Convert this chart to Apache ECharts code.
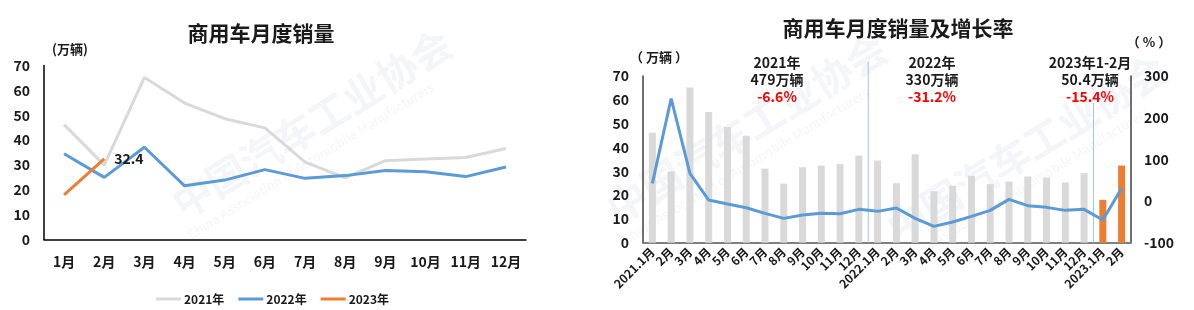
<!DOCTYPE html>
<html>
<head>
<meta charset="utf-8">
<script src="https://cdn.jsdelivr.net/npm/echarts@6/dist/echarts.min.js"></script>
<style>
html,body{margin:0;padding:0;background:#fff;}
#c{width:1194px;height:310px;}
</style>
</head>
<body>
<div id="c"></div>
<script>
// ---- data ----
const monthLabels = ['1月','2月','3月','4月','5月','6月','7月','8月','9月','10月','11月','12月'];
const sales2021 = [46.2, 29.9, 65.2, 54.9, 48.6, 44.9, 31.1, 24.8, 31.7, 32.4, 33.0, 36.6];
const sales2022 = [34.5, 25.0, 37.1, 21.6, 23.9, 28.1, 24.6, 25.7, 27.8, 27.3, 25.3, 29.2];
const sales2023 = [18.0, 32.4];
const seriesNames = ['2021年', '2022年', '2023年'];
const comboLabels = ['2021.1月','2月','3月','4月','5月','6月','7月','8月','9月','10月','11月','12月',
  '2022.1月','2月','3月','4月','5月','6月','7月','8月','9月','10月','11月','12月',
  '2023.1月','2月'];
const growthRate = [42.5, 246, 66.5, 2.4, -7.2, -16, -29.6, -41.6, -33.6, -29.6, -30.4, -20,
  -24.8, -16.8, -41.6, -60.8, -50.4, -36.8, -22.4, 4, -11.2, -15.2, -22.4, -20,
  -45.6, 30.4];
const leftTicks = {min: 0, max: 70, interval: 10};
const rightTicks = {min: -100, max: 300, interval: 100};
const annotations = [
  {x: 777, lines: ['2021年', '479万辆', '-6.6%']},
  {x: 932, lines: ['2022年', '330万辆', '-31.2%']},
  {x: 1090, lines: ['2023年1-2月', '50.4万辆', '-15.4%']}
];

const FONT = '"Noto Sans CJK SC", "Noto Sans", sans-serif';
const DARK = '#1a1a1a';
const histBars = sales2021.concat(sales2022);
const grayBars = histBars.concat(sales2023.map(() => '-'));
const orangeBars = histBars.map(() => '-').concat(sales2023);

const chart = echarts.init(document.getElementById('c'), null, {renderer: 'canvas'});

function txt(x, y, text, size, color, extra) {
  return Object.assign({
    type: 'text', x: x, y: y, z: 10,
    style: {text: text, fontSize: size, fontWeight: 'bold', fontFamily: FONT,
      fill: color || DARK, textAlign: 'center', textVerticalAlign: 'middle'}
  }, extra || {});
}

const wmColor = 'rgba(205,212,228,0.24)';
function watermark(x, y, rot) {
  return [
    {type: 'text', x: x, y: y, rotation: rot, z: -10, silent: true,
      style: {text: '中国汽车工业协会', fontSize: 40, fontWeight: 'bold', fontFamily: FONT, fill: wmColor}},
    {type: 'text', x: x + 20, y: y + 40, rotation: rot, z: -10, silent: true,
      style: {text: 'China Association of Automobile Manufacturers', fontSize: 13, fontFamily: FONT, fill: wmColor}}
  ];
}

const graphics = [
  txt(261, 33, '商用车月度销量', 21),
  txt(898, 28, '商用车月度销量及增长率', 21),
  txt(70, 49, '(万辆)', 13),
  txt(659, 57, '（ 万辆 ）', 13),
  txt(1149, 42, '（ % ）', 13)
].concat(watermark(165, 190, 0.55), watermark(600, 195, 0.55), watermark(880, 215, 0.55));

annotations.forEach(a => {
  graphics.push(txt(a.x, 63, a.lines[0], 14));
  graphics.push(txt(a.x, 80, a.lines[1], 14));
  graphics.push(txt(a.x, 97, a.lines[2], 14, '#ff0000'));
});

const axisLabelStyle = {fontSize: 14, fontWeight: 'bold', color: DARK, fontFamily: FONT};

const option = {
  animation: false,
  backgroundColor: '#fff',
  textStyle: {fontFamily: FONT},
  legend: {
    data: seriesNames,
    left: 151, top: 288,
    itemWidth: 25, itemHeight: 3, itemGap: 14,
    icon: 'rect',
    textStyle: {fontSize: 12, fontWeight: 'bold', color: DARK, fontFamily: FONT, padding: [0, 0, 0, -2]}
  },
  grid: [
    {left: 44, top: 65.5, width: 482, height: 174},
    {left: 643, top: 76, width: 488, height: 166.7}
  ],
  xAxis: [
    {type: 'category', gridIndex: 0, data: monthLabels, boundaryGap: true,
      axisLine: {lineStyle: {color: '#000', width: 1.5}}, axisTick: {show: false},
      axisLabel: Object.assign({margin: 15, interval: 0}, axisLabelStyle)},
    {type: 'category', gridIndex: 1, data: comboLabels, boundaryGap: true,
      axisLine: {lineStyle: {color: '#7f7f7f', width: 2}}, axisTick: {show: false},
      axisLabel: {interval: 0, rotate: 45, margin: 7, fontSize: 12, fontWeight: 'bold', color: DARK, fontFamily: FONT}}
  ],
  yAxis: [
    {type: 'value', gridIndex: 0, min: leftTicks.min, max: leftTicks.max, interval: leftTicks.interval,
      axisLine: {show: true, lineStyle: {color: '#000', width: 1.5}}, axisTick: {show: false},
      splitLine: {show: false}, axisLabel: Object.assign({margin: 14}, axisLabelStyle)},
    {type: 'value', gridIndex: 1, min: leftTicks.min, max: leftTicks.max, interval: leftTicks.interval,
      axisLine: {show: true, lineStyle: {color: '#404040', width: 1.5}}, axisTick: {show: false},
      splitLine: {show: false}, axisLabel: Object.assign({margin: 14}, axisLabelStyle)},
    {type: 'value', gridIndex: 1, position: 'right', min: rightTicks.min, max: rightTicks.max, interval: rightTicks.interval,
      axisLine: {show: true, lineStyle: {color: '#404040', width: 1.5}}, axisTick: {show: false},
      splitLine: {show: false}, axisLabel: Object.assign({margin: 13}, axisLabelStyle)}
  ],
  series: [
    {name: seriesNames[0], type: 'line', xAxisIndex: 0, yAxisIndex: 0, data: sales2021,
      symbol: 'none', color: '#d9d9d9', lineStyle: {width: 3, color: '#d9d9d9'}, z: 3},
    {name: seriesNames[1], type: 'line', xAxisIndex: 0, yAxisIndex: 0, data: sales2022,
      symbol: 'none', color: '#5b9bd5', lineStyle: {width: 3, color: '#5b9bd5'}, z: 4},
    {name: seriesNames[2], type: 'line', xAxisIndex: 0, yAxisIndex: 0, data: sales2023,
      symbol: 'none', color: '#ed7d31', lineStyle: {width: 3, color: '#ed7d31'}, z: 5,
      endLabel: {show: true, distance: 10, fontSize: 14, fontWeight: 'bold', color: DARK, fontFamily: FONT,
        formatter: p => String(p.value)}},
    {name: 'bar-hist', type: 'bar', xAxisIndex: 1, yAxisIndex: 1, data: grayBars,
      barWidth: 7, itemStyle: {color: '#d9d9d9'}, z: 2},
    {name: 'bar-2023', type: 'bar', xAxisIndex: 1, yAxisIndex: 1, data: orangeBars,
      barWidth: 7, barGap: '-100%', itemStyle: {color: '#ed7d31'}, z: 2},
    {name: 'growth', type: 'line', xAxisIndex: 1, yAxisIndex: 2, data: growthRate,
      symbol: 'none', lineStyle: {width: 3, color: '#5b9bd5'}, color: '#5b9bd5', z: 6}
  ],
  graphic: graphics
};

chart.setOption(option);

// year separators between categories, positioned through the axis scale
function boundaryX(i) {
  const a = chart.convertToPixel({xAxisIndex: 1}, i - 1);
  const b = chart.convertToPixel({xAxisIndex: 1}, i);
  return (a + b) / 2;
}
const yBottom = chart.convertToPixel({yAxisIndex: 1}, 0);
const sepA = boundaryX(sales2021.length);
const sepB = boundaryX(sales2021.length + sales2022.length);
const extra = graphics.concat([
  {type: 'line', z: 1, shape: {x1: sepA, y1: 62, x2: sepA, y2: yBottom}, style: {stroke: '#9dc3e6', lineWidth: 1}},
  {type: 'line', z: 1, shape: {x1: sepB, y1: 103, x2: sepB, y2: yBottom}, style: {stroke: '#9dc3e6', lineWidth: 1}}
]);
chart.setOption({graphic: extra}, {replaceMerge: ['graphic']});
</script>
</body>
</html>
